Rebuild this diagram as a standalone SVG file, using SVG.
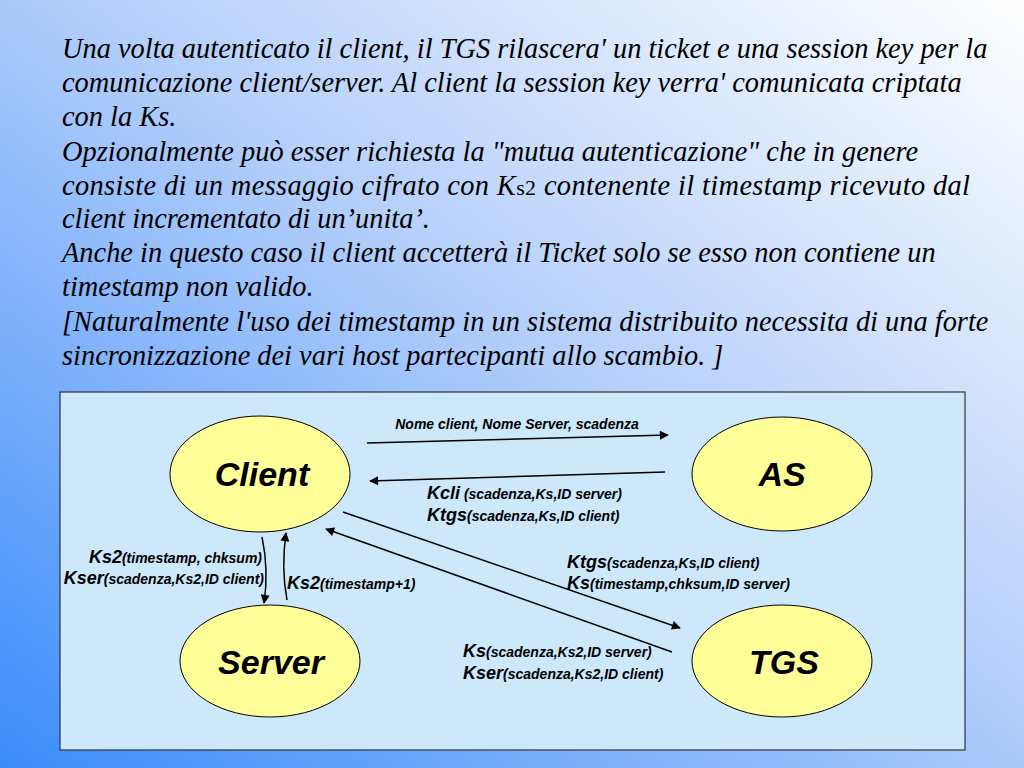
<svg xmlns="http://www.w3.org/2000/svg" width="1024" height="768" viewBox="0 0 1024 768">
<defs>
<linearGradient id="bg" x1="0" y1="1" x2="1" y2="0">
<stop offset="0" stop-color="#3a8cfb"/>
<stop offset="0.55" stop-color="#b6d0fb"/>
<stop offset="1" stop-color="#ffffff"/>
</linearGradient>
<marker id="ah" viewBox="0 0 10 10" refX="9" refY="5" markerWidth="10" markerHeight="9" markerUnits="userSpaceOnUse" orient="auto">
<path d="M0,0 L10,5 L0,10 z" fill="#000"/>
</marker>
<style>
.para{font-family:"Liberation Serif",serif;font-style:italic;font-size:28.4px;fill:#000}
.node ellipse{fill:#ffff99;stroke:#000;stroke-width:1}
.node text{font-family:"Liberation Sans",Arial,sans-serif;font-weight:bold;font-style:italic;font-size:34px;fill:#000;text-anchor:middle}
.conn path{fill:none;stroke:#000;stroke-width:1.5;marker-end:url(#ah)}
.lbl{font-family:"Liberation Sans",Arial,sans-serif;font-weight:bold;font-style:italic;fill:#000}
.big{font-size:18px}
.sm{font-size:14px}
</style>
</defs>
<rect width="1024" height="768" fill="url(#bg)"/>
<g id="text">
<text class="para" x="62" y="58">Una volta autenticato il client, il TGS rilascera' un ticket e una session key per la</text>
<text class="para" x="62" y="92">comunicazione client/server. Al client la session key verra' comunicata criptata</text>
<text class="para" x="62" y="126">con la Ks.</text>
<text class="para" x="62" y="161">Opzionalmente può esser richiesta la "mutua autenticazione" che in genere</text>
<text class="para" x="62" y="195" textLength="908" lengthAdjust="spacing">consiste di un messaggio cifrato con K<tspan font-style="normal" font-size="22px">s2</tspan> contenente il timestamp ricevuto dal</text>
<text class="para" x="62" y="228">client incrementato di un’unita’.</text>
<text class="para" x="62" y="262">Anche in questo caso il client accetterà il Ticket solo se esso non contiene un</text>
<text class="para" x="62" y="296">timestamp non valido.</text>
<text class="para" x="62" y="331">[Naturalmente l'uso dei timestamp in un sistema distribuito necessita di una forte</text>
<text class="para" x="62" y="365">sincronizzazione dei vari host partecipanti allo scambio. ]</text>
</g>
<rect id="panel" x="60" y="392" width="905" height="358" fill="#cde7fb" stroke="#333" stroke-width="1.2"/>
<g id="client" class="node"><ellipse cx="260" cy="474" rx="90" ry="58"/><text x="262" y="486">Client</text></g>
<g id="as" class="node"><ellipse cx="782" cy="474" rx="90" ry="57"/><text x="782" y="486">AS</text></g>
<g id="server" class="node"><ellipse cx="270" cy="661" rx="90" ry="56"/><text x="271" y="674">Server</text></g>
<g id="tgs" class="node"><ellipse cx="782" cy="661" rx="90" ry="56"/><text x="784" y="674">TGS</text></g>
<g id="connectors" class="conn">
<path d="M367,443 L668,435"/>
<path d="M665,472 L370,481"/>
<path d="M343,512 L680,628"/>
<path d="M672,652 L326,529"/>
<path d="M262,537 Q269,570 264,603"/>
<path d="M287,600 Q281,568 286,533"/>
</g>
<g id="labels">
<text class="lbl sm" x="517" y="429" text-anchor="middle">Nome client, Nome Server, scadenza</text>
<text class="lbl" x="427" y="499"><tspan class="big">Kcli</tspan><tspan class="sm"> (scadenza,Ks,ID server)</tspan></text>
<text class="lbl" x="427" y="521"><tspan class="big">Ktgs</tspan><tspan class="sm">(scadenza,Ks,ID client)</tspan></text>
<text class="lbl" x="262" y="563" text-anchor="end"><tspan class="big">Ks2</tspan><tspan class="sm">(timestamp, chksum)</tspan></text>
<text class="lbl" x="264" y="584" text-anchor="end"><tspan class="big">Kser</tspan><tspan class="sm">(scadenza,Ks2,ID client)</tspan></text>
<text class="lbl" x="287" y="589"><tspan class="big">Ks2</tspan><tspan class="sm">(timestamp+1)</tspan></text>
<text class="lbl" x="567" y="568"><tspan class="big">Ktgs</tspan><tspan class="sm">(scadenza,Ks,ID client)</tspan></text>
<text class="lbl" x="567" y="589"><tspan class="big">Ks</tspan><tspan class="sm">(timestamp,chksum,ID server)</tspan></text>
<text class="lbl" x="463" y="657"><tspan class="big">Ks</tspan><tspan class="sm">(scadenza,Ks2,ID server)</tspan></text>
<text class="lbl" x="463" y="679"><tspan class="big">Kser</tspan><tspan class="sm">(scadenza,Ks2,ID client)</tspan></text>
</g>
</svg>
